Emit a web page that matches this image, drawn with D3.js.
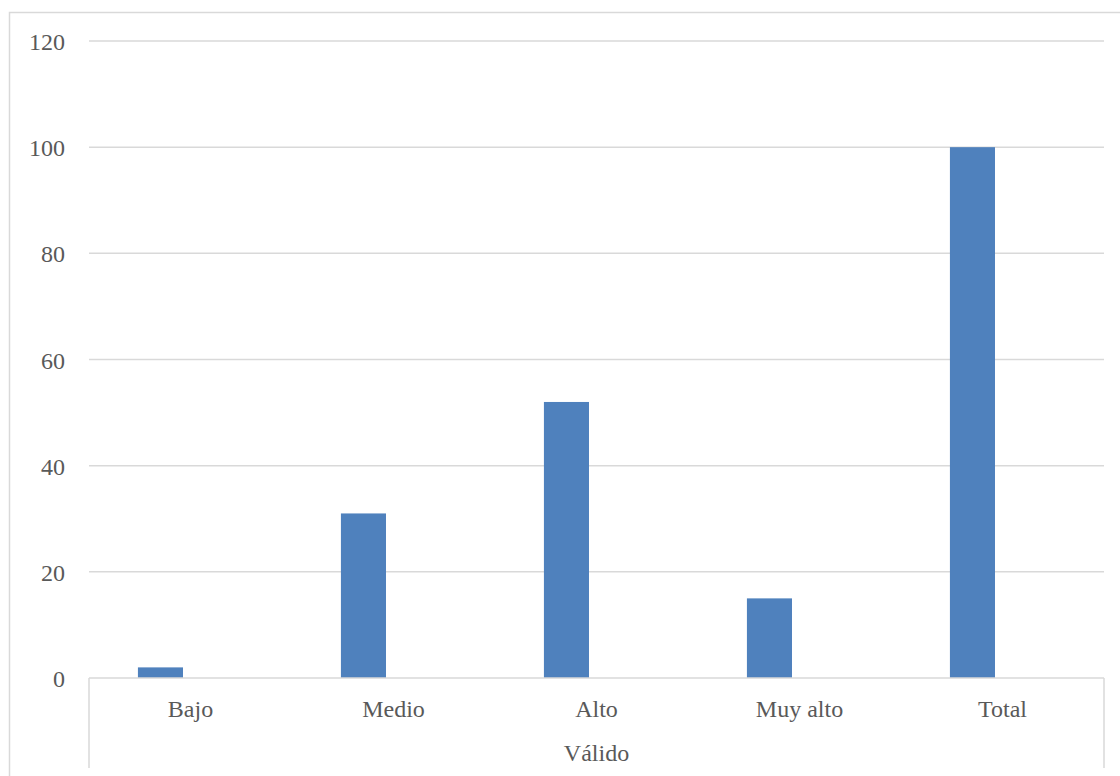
<!DOCTYPE html>
<html><head><meta charset="utf-8">
<script src="https://cdn.jsdelivr.net/npm/d3@7"></script>
<style>body{margin:0;background:#fff;} text{font-family:"Liberation Serif",serif;}</style>
</head><body>
<svg id="c" width="1120" height="776"></svg>
<script>
const categories = ["Bajo","Medio","Alto","Muy alto","Total"];
const values = [2, 31, 52, 15, 100];
const yTicks = [0,20,40,60,80,100,120];
const groupLabel = "Válido";

const svg = d3.select("#c");
const L = 89, R = 1104, T = 41, B = 678;
// chart border
svg.append("rect").attr("x",9.5).attr("y",12.5).attr("width",1130).attr("height",800)
  .attr("fill","none").attr("stroke","#d9d9d9").attr("stroke-width",1.5);

const y = d3.scaleLinear().domain([0,120]).range([B,T]);
const x = d3.scaleBand().domain(categories).range([L,R]).padding(0);

// gridlines
svg.append("g").selectAll("line").data(yTicks.filter(d=>d>0)).join("line")
  .attr("x1",L).attr("x2",R).attr("y1",d=>y(d)).attr("y2",d=>y(d))
  .attr("stroke","#d9d9d9").attr("stroke-width",1.5);

// y labels
const yAxis = d3.axisLeft(y).tickValues(yTicks).tickSize(0).tickPadding(24);
const ga = svg.append("g").attr("transform",`translate(${L},0)`).call(yAxis);
ga.select(".domain").remove();
ga.selectAll("text").attr("fill","#595959").attr("dy","0.36em").style("font-size","24px").style("font-family","Liberation Serif");

// bars
const bw = x.bandwidth();
svg.append("g").selectAll("rect").data(values).join("rect")
  .attr("x",(d,i)=>x(categories[i]) + bw*0.241)
  .attr("width", bw*0.222)
  .attr("y",d=>y(d)).attr("height",d=>B-y(d))
  .attr("fill","#4f81bd");

// x axis baseline
svg.append("line").attr("x1",L).attr("x2",R).attr("y1",B).attr("y2",B)
  .attr("stroke","#d9d9d9").attr("stroke-width",1.5);
// group separators
[L,R].forEach(xx=>svg.append("line").attr("x1",xx).attr("x2",xx).attr("y1",B).attr("y2",768)
  .attr("stroke","#d9d9d9").attr("stroke-width",1.5));

// category labels
svg.append("g").selectAll("text").data(categories).join("text")
  .attr("x",d=>x(d)+bw/2).attr("y",717).attr("text-anchor","middle")
  .attr("fill","#595959").style("font-size","24px").text(d=>d);

svg.append("text").attr("x",(L+R)/2).attr("y",761).attr("text-anchor","middle")
  .attr("fill","#595959").style("font-size","24px").text(groupLabel);
</script>
</body></html>
